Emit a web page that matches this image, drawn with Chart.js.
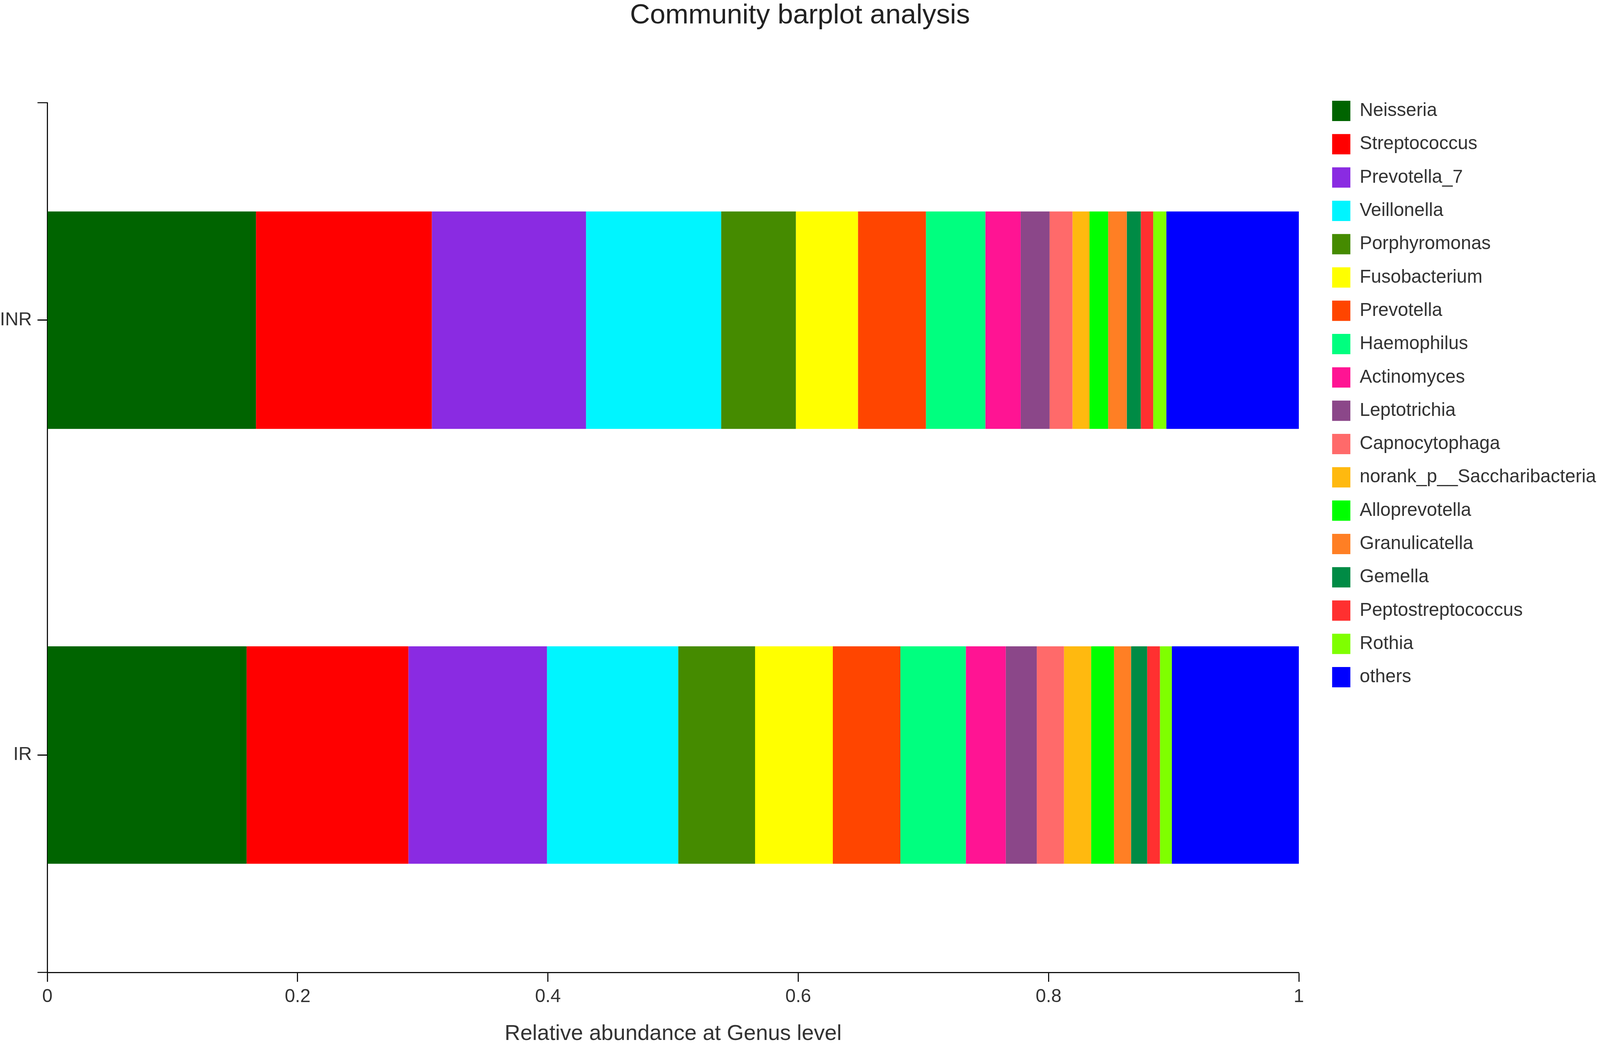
<!DOCTYPE html>
<html>
<head>
<meta charset="utf-8">
<title>Community barplot analysis</title>
<script src="https://cdn.jsdelivr.net/npm/chart.js@4/dist/chart.umd.min.js"></script>
<style>
  html, body { margin: 0; padding: 0; background: #fff; overflow: hidden; }
  #wrap { position: relative; width: 100vw; height: 100vh; }
</style>
</head>
<body>
<div id="wrap"><canvas id="barplot"></canvas></div>
<script>
// groups (y axis, top to bottom)
const groups = ['INR', 'IR'];

// genera in stacking / legend order
const genera = [
  'Neisseria', 'Streptococcus', 'Prevotella_7', 'Veillonella', 'Porphyromonas',
  'Fusobacterium', 'Prevotella', 'Haemophilus', 'Actinomyces', 'Leptotrichia',
  'Capnocytophaga', 'norank_p__Saccharibacteria', 'Alloprevotella', 'Granulicatella',
  'Gemella', 'Peptostreptococcus', 'Rothia', 'others'
];

const generaColors = [
  '#006400', '#FF0000', '#8A2BE2', '#00F5FF', '#458B00',
  '#FFFF00', '#FF4500', '#00FF7F', '#FF1493', '#8B4789',
  '#FF6A6A', '#FFB90F', '#00FF00', '#FF7F24',
  '#008B45', '#FF3030', '#7FFF00', '#0000FF'
];

// relative abundance per genus
const inrValues = [
  0.1667, 0.1405, 0.1232, 0.1080, 0.0597,
  0.0496, 0.0543, 0.0475, 0.0282, 0.0231,
  0.0183, 0.0136, 0.0149, 0.0149,
  0.0112, 0.0099, 0.0105, 0.1059
];
const irValues = [
  0.1592, 0.1293, 0.1107, 0.1049, 0.0614,
  0.0621, 0.0540, 0.0523, 0.0319, 0.0248,
  0.0217, 0.0217, 0.0183, 0.0136,
  0.0129, 0.0102, 0.0095, 0.1015
];

const xTickLabels = ['0', '0.2', '0.4', '0.6', '0.8', '1'];

const fontFamily = '"Liberation Sans", Arial, Helvetica, sans-serif';

// the figure was laid out on a 4564x2681 page; scale to the real viewport
const kx = window.innerWidth / 4564;
const ky = window.innerHeight / 2681;
const sx = v => v * kx;
const sy = v => v * ky;

const titleSize = sx(79);
const axisTitleSize = sx(62);

const datasets = genera.map((name, i) => ({
  label: name,
  data: [inrValues[i], irValues[i]],
  backgroundColor: generaColors[i],
  borderWidth: 0,
  categoryPercentage: 1,
  barPercentage: 0.5
}));

// little outer ticks at the ends of the y axis
const outerTicks = {
  id: 'outerTicks',
  afterDraw(chart) {
    const {ctx, chartArea} = chart;
    ctx.save();
    ctx.strokeStyle = '#000';
    ctx.lineWidth = sx(3);
    ctx.beginPath();
    ctx.moveTo(chartArea.left - sx(28), chartArea.top);
    ctx.lineTo(chartArea.left, chartArea.top);
    ctx.moveTo(chartArea.left - sx(28), chartArea.bottom);
    ctx.lineTo(chartArea.left, chartArea.bottom);
    ctx.stroke();
    ctx.restore();
  }
};

const config = {
  type: 'bar',
  data: { labels: groups, datasets: datasets },
  plugins: [outerTicks],
  options: {
    indexAxis: 'y',
    responsive: true,
    maintainAspectRatio: false,
    animation: false,
    layout: { padding: 0 },
    plugins: {
      title: {
        display: true,
        text: 'Community barplot analysis',
        color: '#222',
        font: { family: fontFamily, size: titleSize, weight: 'normal', lineHeight: 1 },
        padding: { top: sy(40) - titleSize / 2, bottom: sy(263) - sy(40) - titleSize / 2 }
      },
      legend: {
        display: true,
        position: 'right',
        align: 'start',
        maxWidth: sx(1400),
        title: {
          display: true,
          text: '',
          font: { size: sy(10), lineHeight: 1 },
          padding: { top: sy(258 - 33.3 - 10), bottom: 0 }
        },
        labels: {
          boxWidth: sx(52),
          boxHeight: sy(52),
          padding: sy(33.3),
          color: '#333',
          font: { family: fontFamily, size: sx(53) }
        }
      },
      tooltip: { enabled: false }
    },
    scales: {
      x: {
        type: 'linear',
        stacked: true,
        min: 0,
        max: 1,
        afterFit(scale) { scale.height = sy(191); },
        border: { display: true, color: '#000', width: sx(3) },
        grid: { drawOnChartArea: false, drawTicks: true, tickLength: sy(24), tickColor: '#000', tickWidth: sx(3) },
        ticks: {
          stepSize: 0.2,
          padding: sy(10),
          color: '#333',
          font: { family: fontFamily, size: sx(53) },
          callback: (value, index) => xTickLabels[index]
        },
        title: {
          display: true,
          text: 'Relative abundance at Genus level',
          color: '#333',
          font: { family: fontFamily, size: axisTitleSize, lineHeight: 1 },
          padding: { top: 0, bottom: Math.max(0, sy(33) - axisTitleSize / 2) }
        }
      },
      y: {
        type: 'category',
        stacked: true,
        afterFit(scale) { scale.width = sx(135); },
        border: { display: true, color: '#000', width: sx(3) },
        grid: { offset: false, drawOnChartArea: false, drawTicks: true, tickLength: sx(28), tickColor: '#000', tickWidth: sy(3) },
        ticks: {
          padding: sx(16),
          color: '#333',
          font: { family: fontFamily, size: sx(53) }
        }
      },
      // empty spacer between the plot and the legend, so that x = 1 sits where it does in the figure
      gap: {
        type: 'linear',
        position: 'right',
        display: true,
        afterFit(scale) {
          const chart = scale.chart;
          const legendWidth = chart.legend ? chart.legend.width : 0;
          scale.width = Math.max(0, chart.width - legendWidth - sx(3705));
        },
        border: { display: false },
        grid: { display: false },
        ticks: { display: false }
      }
    }
  }
};

const ctx = document.getElementById('barplot').getContext('2d');
new Chart(ctx, config);
</script>
</body>
</html>
